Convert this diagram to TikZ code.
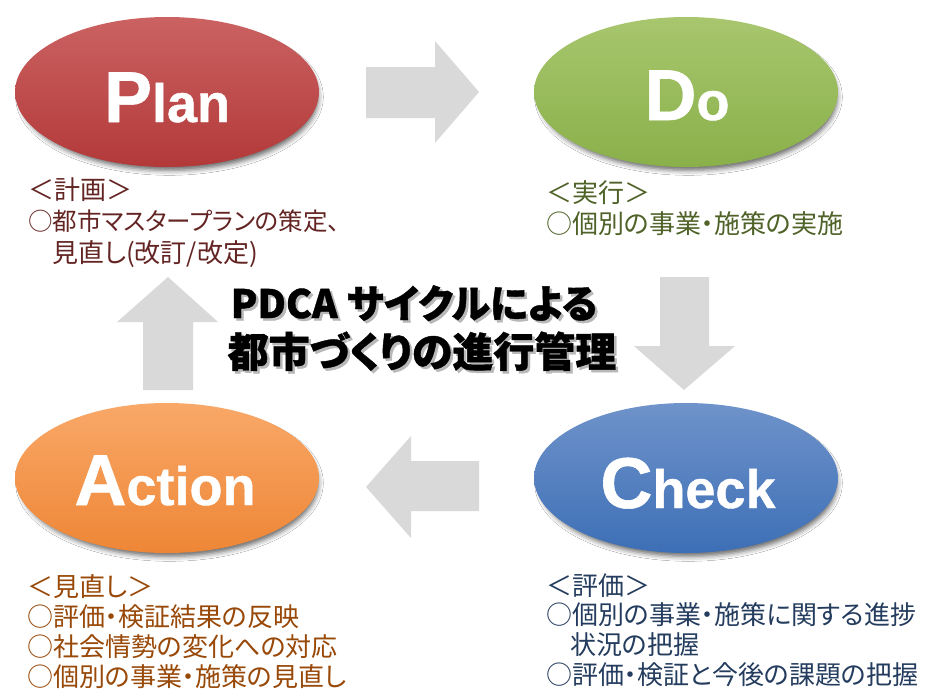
\documentclass[tikz,border=0pt]{standalone}
\usepackage{fontspec}
\setmainfont{Liberation Sans}
\newfontfamily\jp[RawFeature=+palt]{Noto Sans CJK JP}
\usetikzlibrary{shadows.blur,shapes.geometric}
\definecolor{plantop}{HTML}{CB6262}
\definecolor{planbot}{HTML}{B33939}
\definecolor{dotop}{HTML}{A8C66E}
\definecolor{dobot}{HTML}{8AB04A}
\definecolor{checktop}{HTML}{6F93CA}
\definecolor{checkbot}{HTML}{3D6FB6}
\definecolor{acttop}{HTML}{F9A868}
\definecolor{actbot}{HTML}{EE8636}
\definecolor{plantxt}{HTML}{632523}
\definecolor{dotxt}{HTML}{4F6228}
\definecolor{acttxt}{HTML}{984807}
\definecolor{checktxt}{HTML}{243C5E}
\definecolor{arrowgray}{HTML}{D9D9D9}
\tikzset{
  phase/.style={ellipse, minimum width=304pt, minimum height=150pt, inner sep=0pt,
    blur shadow={shadow xshift=2.5pt, shadow yshift=-5pt, shadow scale=0.98, shadow blur radius=5pt, shadow opacity=60}},
  biglabel/.style={anchor=base, text=white, font=\fontsize{54}{54}\selectfont\bfseries\addfontfeature{FakeBold=0.8}, inner sep=0pt},
  caption/.style={anchor=base west, inner sep=0pt, font=\jp\fontsize{26}{30}\selectfont},
  blockarrow/.style={fill=arrowgray, draw=none},
  titletext/.style={anchor=base, inner sep=0pt},
}
\newcommand{\bigfirst}[1]{{\fontsize{72}{72}\selectfont #1}}
\newcommand{\shadowtext}[1]{\makebox[0pt][l]{\kern2.5pt\raisebox{-2.5pt}{\textcolor{black!28}{#1}}}#1}
\begin{document}
\begin{tikzpicture}[x=1pt,y=-1pt]
\useasboundingbox[fill=white] (0,0) rectangle (932,689);

% block arrows
\fill[blockarrow] (366,67) -- (435,67) -- (435,41) -- (479,92) -- (435,143) -- (435,118) -- (366,118) -- cycle;
\fill[blockarrow] (660,277) -- (709,277) -- (709,346) -- (735,346) -- (684,390) -- (634,346) -- (660,346) -- cycle;
\fill[blockarrow] (479,461) -- (411,461) -- (411,436) -- (366,487) -- (411,538) -- (411,511) -- (479,511) -- cycle;
\fill[blockarrow] (143,390) -- (143,322) -- (117,322) -- (168,277) -- (218,322) -- (193,322) -- (193,390) -- cycle;

% ellipses
\node[phase, top color=plantop, bottom color=planbot] (plan) at (167,92) {};
\node[phase, top color=dotop, bottom color=dobot] (do) at (686,92) {};
\node[phase, top color=checktop, bottom color=checkbot] (check) at (686,478) {};
\node[phase, top color=acttop, bottom color=actbot] (action) at (167,478) {};

\node[biglabel] (planlbl) at (167,122) {\bigfirst{P}lan};
\node[biglabel] (dolbl) at (687,120) {\bigfirst{D}o};
\node[biglabel] (checklbl) at (688,508) {\bigfirst{C}heck};
\node[biglabel] (actlbl) at (165,505) {\bigfirst{A}ction};

% captions
\begin{scope}[every node/.append style={text=plantxt}]
\node[caption] (p1) at (28,199) {＜計画＞};
\node[caption, font=\jp\fontsize{24.5}{30}\selectfont] (p2) at (28,230) {○都市マスタープランの策定、};
\node[caption] (p3) at (52,262) {見直し(改訂/改定)};
\end{scope}
\begin{scope}[every node/.append style={text=dotxt}]
\node[caption] (d1) at (546,202) {＜実行＞};
\node[caption] (d2) at (546,233) {○個別の事業・施策の実施};
\end{scope}
\begin{scope}[every node/.append style={text=acttxt}]
\node[caption] (a1) at (27,596) {＜見直し＞};
\node[caption] (a2) at (27,626) {○評価・検証結果の反映};
\node[caption] (a3) at (27,656) {○社会情勢の変化への対応};
\node[caption] (a4) at (27,686) {○個別の事業・施策の見直し};
\end{scope}
\begin{scope}[every node/.append style={text=checktxt}]
\node[caption] (c1) at (546,595) {＜評価＞};
\node[caption] (c2) at (546,624) {○個別の事業・施策に関する進捗};
\node[caption] (c3) at (570,654) {状況の把握};
\node[caption] (c4) at (546,684) {○評価・検証と今後の課題の把握};
\end{scope}

% title with soft shadow
\node[titletext, font=\jp\bfseries\fontsize{39}{44}\selectfont\addfontfeature{FakeBold=1}] (t1) at (414,318) {\shadowtext{PDCA サイクルによる}};
\node[titletext, font=\jp\bfseries\fontsize{41}{44}\selectfont\addfontfeature{FakeBold=1}] (t2) at (422,367) {\shadowtext{都市づくりの進行管理}};
\end{tikzpicture}
\end{document}
